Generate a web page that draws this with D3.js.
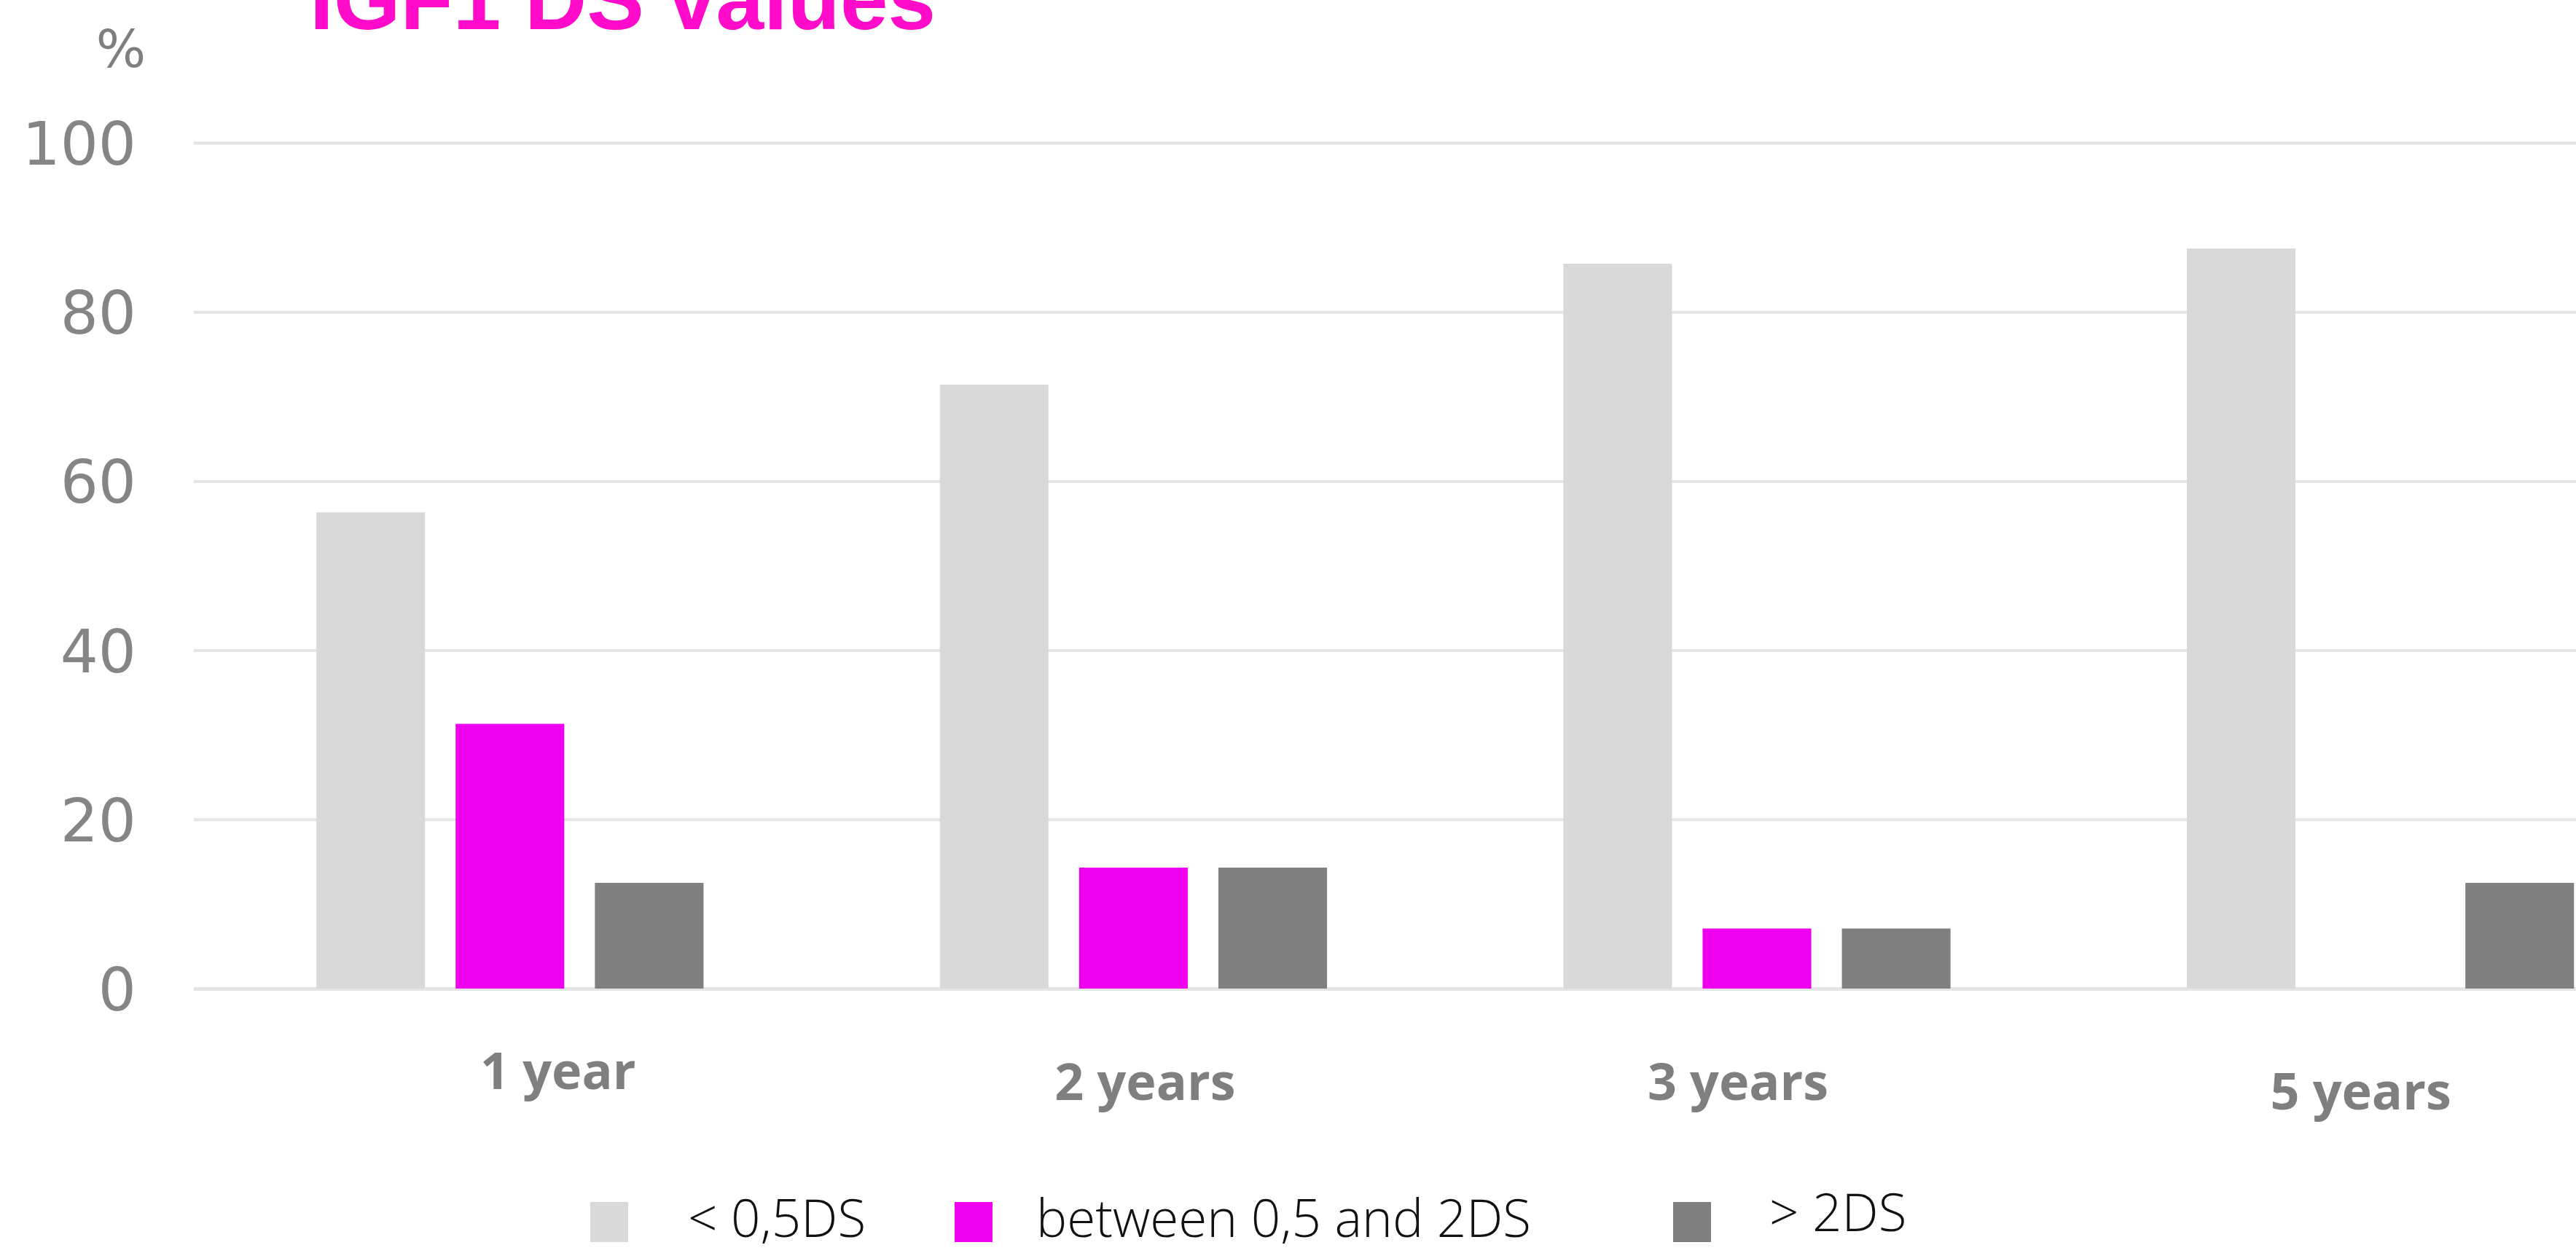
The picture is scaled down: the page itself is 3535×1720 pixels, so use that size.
<!DOCTYPE html>
<html>
<head>
<meta charset="utf-8">
<script src="https://cdn.jsdelivr.net/npm/d3@7"></script>
<style>
  body { margin: 0; background: #fff; }
</style>
</head>
<body>
<svg id="chart" width="3535" height="1720"></svg>
<script>
// data
var categories = ["1 year", "2 years", "3 years", "5 years"];
var seriesNames = ["< 0,5DS", "between 0,5 and 2DS", "> 2DS"];
var lowValues = [56.3, 71.4, 85.7, 87.5];
var midValues = [31.3, 14.3, 7.1, 0];
var highValues = [12.5, 14.3, 7.1, 12.5];
var yTicks = [0, 20, 40, 60, 80, 100];
var titleText = "IGF1 DS values";
var unitLabel = "%";

var colors = ["#d9d9d9", "#ee00ee", "#7f7f7f"];

// the category labels and legend were placed by hand in the original
var labelNudge = [[66, 0], [16, 15], [-26, 15], [-27, 28]];
var legendBoxX = [810, 1310, 2296];
var legendTextX = [944, 1422, 2428];
var legendTextY = [1698, 1698, 1690];

var width = 3535, height = 1720;
var svg = d3.select("#chart");

var y = d3.scaleLinear().domain([0, 100]).range([1357, 196]);

var x0 = d3.scaleBand()
      .domain(categories)
      .range([272, 272 + 4 * 855.6])
      .paddingInner(0.379)
      .paddingOuter(0.1895);

var x1 = d3.scaleBand()
      .domain(seriesNames)
      .range([0, x0.bandwidth()])
      .paddingInner(0.22);

var rows = categories.map(function(c, i) {
      return {cat: c, vals: [lowValues[i], midValues[i], highValues[i]]};
});

// gridlines + y tick labels
var yAxis = svg.append("g")
      .attr("transform", "translate(266,0)")
      .call(d3.axisLeft(y).tickValues(yTicks).tickSize(-(width - 266)).tickPadding(79));

yAxis.select(".domain").remove();
yAxis.selectAll(".tick line")
      .attr("stroke", "#e4e4e4")
      .attr("stroke-width", function(d) { return d === 0 ? 5 : 4; });
yAxis.selectAll(".tick text")
      .attr("fill", "#858585")
      .attr("dy", "0.36em")
      .style("font-family", "'DejaVu Sans', sans-serif")
      .style("font-size", "82px");

// bars
var group = svg.selectAll(".grp")
      .data(rows)
      .enter()
      .append("g")
      .attr("class", "grp")
      .attr("transform", function(d) { return "translate(" + x0(d.cat) + ",0)"; });

group.selectAll("rect")
      .data(function(d) { return d.vals.map(function(v, j) { return {name: seriesNames[j], v: v, j: j}; }); })
      .enter()
      .append("rect")
      .attr("x", function(d) { return x1(d.name); })
      .attr("y", function(d) { return y(d.v); })
      .attr("width", x1.bandwidth())
      .attr("height", function(d) { return y(0) - y(d.v); })
      .style("fill", function(d) { return colors[d.j]; });

// category labels
svg.selectAll(".cat-label")
      .data(categories)
      .enter()
      .append("text")
      .attr("class", "cat-label")
      .attr("x", function(d, i) { return x0(d) + x0.bandwidth() / 2 + labelNudge[i][0]; })
      .attr("y", function(d, i) { return 1495 + labelNudge[i][1]; })
      .attr("text-anchor", "middle")
      .attr("fill", "#7f7f7f")
      .style("font-family", "'Open Sans', sans-serif")
      .style("font-weight", "700")
      .style("font-size", "70px")
      .text(function(d) { return d; });

// title, cut at the top like the original
svg.append("text")
      .attr("x", 425)
      .attr("y", 40)
      .attr("fill", "#ff0bc9")
      .style("font-family", "'Liberation Sans', Arial, sans-serif")
      .style("font-weight", "700")
      .style("font-size", "118px")
      .text(titleText);

svg.append("text")
      .attr("x", 166)
      .attr("y", 92)
      .attr("text-anchor", "middle")
      .attr("fill", "#7f7f7f")
      .style("font-family", "'DejaVu Sans', sans-serif")
      .style("font-size", "72px")
      .text(unitLabel);

// legend
var legend = svg.selectAll(".leg")
      .data(seriesNames)
      .enter()
      .append("g")
      .attr("class", "leg");

legend.append("rect")
      .attr("x", function(d, i) { return legendBoxX[i]; })
      .attr("y", 1650)
      .attr("width", 52)
      .attr("height", 55)
      .style("fill", function(d, i) { return colors[i]; });

legend.append("text")
      .attr("x", function(d, i) { return legendTextX[i]; })
      .attr("y", function(d, i) { return legendTextY[i]; })
      .attr("fill", "#111")
      .style("font-family", "'Open Sans', sans-serif")
      .style("font-weight", "300")
      .style("font-size", "71px")
      .text(function(d) { return d; });
</script>
</body>
</html>
